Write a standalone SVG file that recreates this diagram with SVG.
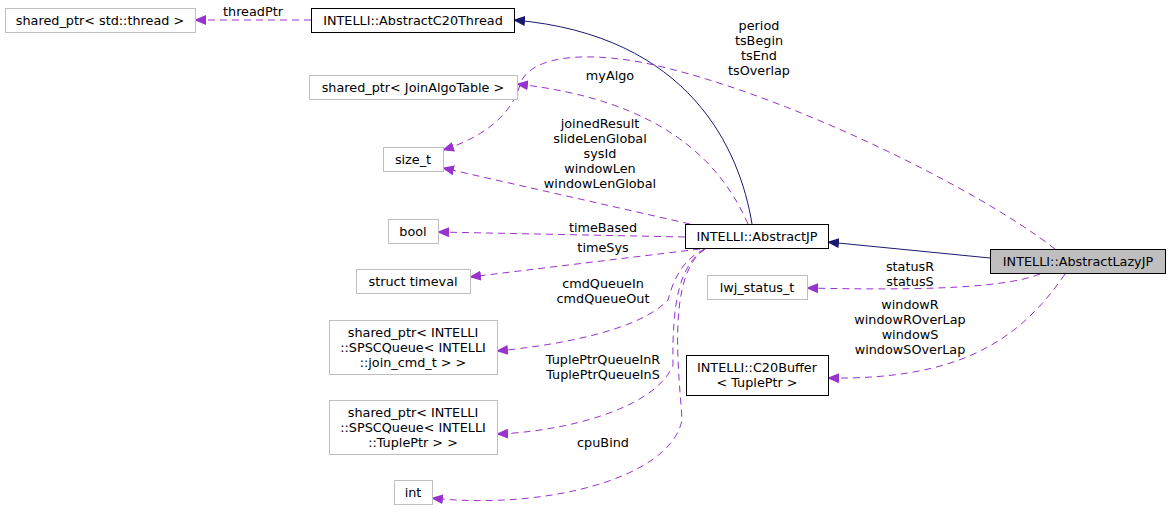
<svg xmlns="http://www.w3.org/2000/svg" width="1171" height="512" viewBox="0 0 1171 512">
<style>
text{font-family:"DejaVu Sans",sans-serif;font-size:12.8px;fill:#000;text-anchor:middle}
.n{fill:#fff;stroke:#bfbfbf}
.b{fill:#fff;stroke:#000}
.p{fill:none;stroke:#9a32cd;stroke-dasharray:7,5}
.s{fill:none;stroke:#191970}
</style>
<defs>
<marker id="mp" markerWidth="12" markerHeight="10" refX="11" refY="5" orient="auto" markerUnits="userSpaceOnUse"><path d="M0,0L12,5L0,10z" fill="#9a32cd"/></marker>
<marker id="ms" markerWidth="12" markerHeight="10" refX="11" refY="5" orient="auto" markerUnits="userSpaceOnUse"><path d="M0,0L12,5L0,10z" fill="#191970"/></marker>
</defs>
<rect width="1171" height="512" fill="#fff"/>
<g id="connectors">
<path class="p" d="M311,20L195,20" marker-end="url(#mp)"/>
<path class="s" d="M752,224C740,150 690,35 514,20" marker-end="url(#ms)"/>
<path class="s" d="M990,258L828,242" marker-end="url(#ms)"/>
<path class="p" d="M1055,249C980,190 780,90 640,62C560,48 525,65 520,85C510,120 475,140 443,150" marker-end="url(#mp)"/>
<path class="p" d="M748,224C720,160 660,100 517,84" marker-end="url(#mp)"/>
<path class="p" d="M690,224L443,168" marker-end="url(#mp)"/>
<path class="p" d="M685,237L438,232" marker-end="url(#mp)"/>
<path class="p" d="M700,249L470,277" marker-end="url(#mp)"/>
<path class="p" d="M705,249C680,260 672,285 668,300C640,330 560,345 497,351" marker-end="url(#mp)"/>
<path class="p" d="M705,249C680,265 672,300 673,365C655,410 560,432 497,434" marker-end="url(#mp)"/>
<path class="p" d="M705,249C665,275 680,380 682,420C670,480 540,510 432,498" marker-end="url(#mp)"/>
<path class="p" d="M1040,274C1000,290 900,290 807,288" marker-end="url(#mp)"/>
<path class="p" d="M1065,274C1020,340 960,380 828,378" marker-end="url(#mp)"/>
</g>
<g id="labels">
<text x="253" y="16">threadPtr</text>
<text x="759" y="30">period</text><text x="759" y="45">tsBegin</text><text x="759" y="60">tsEnd</text><text x="759" y="75">tsOverlap</text>
<text x="610" y="80">myAlgo</text>
<text x="600" y="128">joinedResult</text><text x="600" y="143">slideLenGlobal</text><text x="600" y="158">sysId</text><text x="600" y="173">windowLen</text><text x="600" y="188">windowLenGlobal</text>
<text x="603" y="232">timeBased</text>
<text x="603" y="252">timeSys</text>
<text x="603" y="288">cmdQueueIn</text><text x="603" y="303">cmdQueueOut</text>
<text x="603" y="364">TuplePtrQueueInR</text><text x="603" y="379">TuplePtrQueueInS</text>
<text x="603" y="447">cpuBind</text>
<text x="910" y="271">statusR</text><text x="910" y="286">statusS</text>
<text x="910" y="309">windowR</text><text x="910" y="324">windowROverLap</text><text x="910" y="339">windowS</text><text x="910" y="354">windowSOverLap</text>
</g>
<g id="n1"><rect class="n" x="5.5" y="8.5" width="190" height="24"/><text x="100" y="25">shared_ptr&lt; std::thread &gt;</text></g>
<g id="n2"><rect class="b" x="311.5" y="8.5" width="203" height="24"/><text x="413" y="25">INTELLI::AbstractC20Thread</text></g>
<g id="n3"><rect class="n" x="309.5" y="75.5" width="208" height="24"/><text x="413" y="92">shared_ptr&lt; JoinAlgoTable &gt;</text></g>
<g id="n4"><rect class="n" x="383.5" y="147.5" width="60" height="24"/><text x="413" y="164">size_t</text></g>
<g id="n5"><rect class="n" x="388.5" y="219.5" width="50" height="24"/><text x="413" y="236">bool</text></g>
<g id="n6"><rect class="n" x="356.5" y="269.5" width="114" height="24"/><text x="413" y="286">struct timeval</text></g>
<g id="n7"><rect class="n" x="329.5" y="320.5" width="168" height="54"/><text x="413" y="337">shared_ptr&lt; INTELLI</text><text x="413" y="352">::SPSCQueue&lt; INTELLI</text><text x="413" y="367">::join_cmd_t &gt; &gt;</text></g>
<g id="n8"><rect class="n" x="329.5" y="400.5" width="168" height="54"/><text x="413" y="417">shared_ptr&lt; INTELLI</text><text x="413" y="432">::SPSCQueue&lt; INTELLI</text><text x="413" y="447">::TuplePtr &gt; &gt;</text></g>
<g id="n9"><rect class="n" x="394.5" y="480.5" width="38" height="24"/><text x="413" y="497">int</text></g>
<g id="n10"><rect class="b" x="685.5" y="224.5" width="143" height="24"/><text x="757" y="241">INTELLI::AbstractJP</text></g>
<g id="n11"><rect class="n" x="707.5" y="275.5" width="100" height="24"/><text x="757" y="292">lwj_status_t</text></g>
<g id="n12"><rect class="b" x="686.5" y="355.5" width="142" height="40"/><text x="757" y="372">INTELLI::C20Buffer</text><text x="757" y="387">&lt; TuplePtr &gt;</text></g>
<g id="n13"><rect x="990.5" y="249.5" width="175" height="24" fill="#bfbfbf" stroke="#000"/><text x="1078" y="266">INTELLI::AbstractLazyJP</text></g>
</svg>
